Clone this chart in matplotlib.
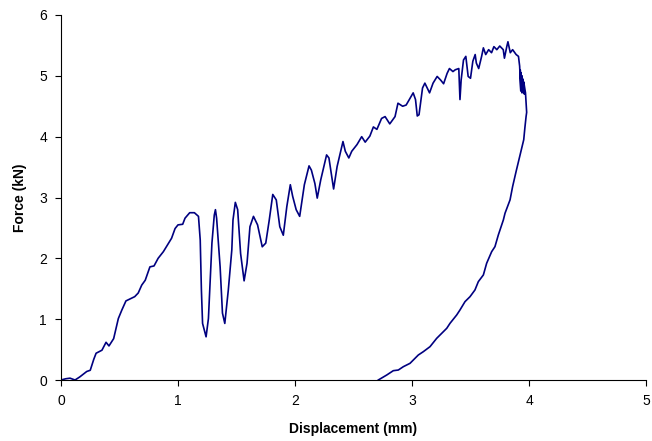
import matplotlib
matplotlib.use("Agg")
import matplotlib.pyplot as plt

# Loading branch (displacement mm, force kN)
load_x = [0, 0.04, 0.077, 0.12, 0.16, 0.22, 0.25, 0.28, 0.30, 0.35, 0.385, 0.41, 0.45, 0.49, 0.52, 0.555,
          0.63, 0.66, 0.69, 0.72, 0.76, 0.795, 0.83, 0.875, 0.945, 0.975, 1.0, 1.04, 1.06, 1.10, 1.14,
          1.175, 1.19, 1.20, 1.21, 1.24, 1.26, 1.29, 1.31, 1.32, 1.33, 1.36, 1.38, 1.40, 1.43, 1.46,
          1.47, 1.49, 1.51, 1.535, 1.565, 1.59, 1.615, 1.645, 1.68, 1.72, 1.75, 1.78, 1.81, 1.84,
          1.87, 1.90, 1.93, 1.96, 1.98, 2.01, 2.04, 2.08, 2.12, 2.14, 2.17, 2.19, 2.22, 2.27, 2.29,
          2.33, 2.36, 2.41, 2.43, 2.46, 2.485, 2.53, 2.57, 2.60, 2.64, 2.67, 2.70, 2.74, 2.77, 2.81,
          2.855, 2.88, 2.92, 2.95, 3.01, 3.03, 3.045, 3.06, 3.09, 3.11, 3.125, 3.15, 3.18, 3.215,
          3.245, 3.27, 3.30, 3.32, 3.35, 3.37, 3.40, 3.41, 3.42, 3.44, 3.46, 3.48, 3.50, 3.52, 3.54,
          3.55, 3.57, 3.595, 3.61, 3.63, 3.655, 3.68, 3.70, 3.725, 3.75, 3.78, 3.79, 3.81, 3.82,
          3.84, 3.86, 3.89, 3.91, 3.92]
load_y = [0, 0.02, 0.03, 0.0, 0.05, 0.14, 0.16, 0.34, 0.44, 0.49, 0.62, 0.56, 0.68, 1.01, 1.15, 1.30,
          1.37, 1.43, 1.56, 1.64, 1.86, 1.875, 2.0, 2.11, 2.33, 2.49, 2.55, 2.56, 2.66, 2.75, 2.75,
          2.69, 2.30, 1.48, 0.93, 0.71, 1.01, 2.25, 2.71, 2.80, 2.66, 1.86, 1.10, 0.93, 1.48, 2.14,
          2.63, 2.92, 2.80, 2.08, 1.63, 1.92, 2.52, 2.69, 2.55, 2.19, 2.25, 2.63, 3.05, 2.96,
          2.52, 2.38, 2.85, 3.21, 3.02, 2.80, 2.69, 3.21, 3.52, 3.45, 3.23, 2.99, 3.29, 3.70, 3.65,
          3.14, 3.51, 3.92, 3.76, 3.65, 3.76, 3.87, 4.00, 3.91, 4.01, 4.16, 4.12, 4.30, 4.33, 4.21,
          4.33, 4.55, 4.50, 4.52, 4.72, 4.61, 4.34, 4.36, 4.80, 4.88, 4.82, 4.72, 4.88, 4.99,
          4.93, 4.87, 5.04, 5.12, 5.07, 5.10, 5.12, 4.61, 4.93, 5.26, 5.32, 4.99, 4.96, 5.24, 5.35,
          5.21, 5.12, 5.32, 5.46, 5.35, 5.43, 5.38, 5.48, 5.43, 5.49, 5.43, 5.29, 5.48, 5.56,
          5.38, 5.43, 5.35, 5.32, 5.16]

# Unloading branch
unload_x = [3.92, 3.93, 3.925, 3.94, 3.93, 3.95, 3.94, 3.955, 3.945, 3.96, 3.955, 3.97, 3.975, 3.98,
            3.975, 3.965, 3.955, 3.92, 3.89, 3.86, 3.838, 3.795, 3.781, 3.752, 3.738, 3.709, 3.681,
            3.638, 3.610, 3.567, 3.538, 3.496, 3.453, 3.410, 3.382, 3.325, 3.297, 3.239, 3.211,
            3.154, 3.097, 3.054, 2.983, 2.926, 2.883, 2.840, 2.784, 2.712]
unload_y = [5.16, 4.75, 5.10, 4.72, 5.05, 4.75, 5.00, 4.72, 4.95, 4.70, 4.90, 4.72, 4.55, 4.40,
            4.33, 4.15, 3.95, 3.67, 3.43, 3.18, 2.961, 2.741, 2.632, 2.467, 2.385, 2.192, 2.110,
            1.919, 1.727, 1.617, 1.480, 1.370, 1.288, 1.151, 1.069, 0.932, 0.850, 0.740, 0.685,
            0.548, 0.466, 0.411, 0.274, 0.219, 0.164, 0.153, 0.082, 0.0]

x_ticks = [0, 1, 2, 3, 4, 5]
y_ticks = [0, 1, 2, 3, 4, 5, 6]

plt.rcParams['font.family'] = ['Liberation Sans', 'DejaVu Sans']

fig = plt.figure(figsize=(6.52, 4.41), dpi=100)
ax = fig.add_axes([61/652, 1 - 380/441, (646-61)/652, (380-15)/441])

ax.plot(load_x + unload_x, load_y + unload_y, color='#000080', linewidth=1.2)

ax.set_xlim(0, 5)
ax.set_ylim(0, 6)
ax.set_xticks(x_ticks)
ax.set_yticks(y_ticks)
ax.tick_params(axis='both', direction='out', length=4, width=0.8, labelsize=10, colors='black', pad=6)
for s in ['top', 'right']:
    ax.spines[s].set_visible(False)
for s in ['left', 'bottom']:
    ax.spines[s].set_linewidth(0.8)
    ax.spines[s].set_color('black')

ax.set_xlabel('Displacement (mm)', fontsize=10, fontweight='bold', labelpad=10)
ax.set_ylabel('Force (kN)', fontsize=10, fontweight='bold', labelpad=9)

fig.savefig('out.png', dpi=100)
